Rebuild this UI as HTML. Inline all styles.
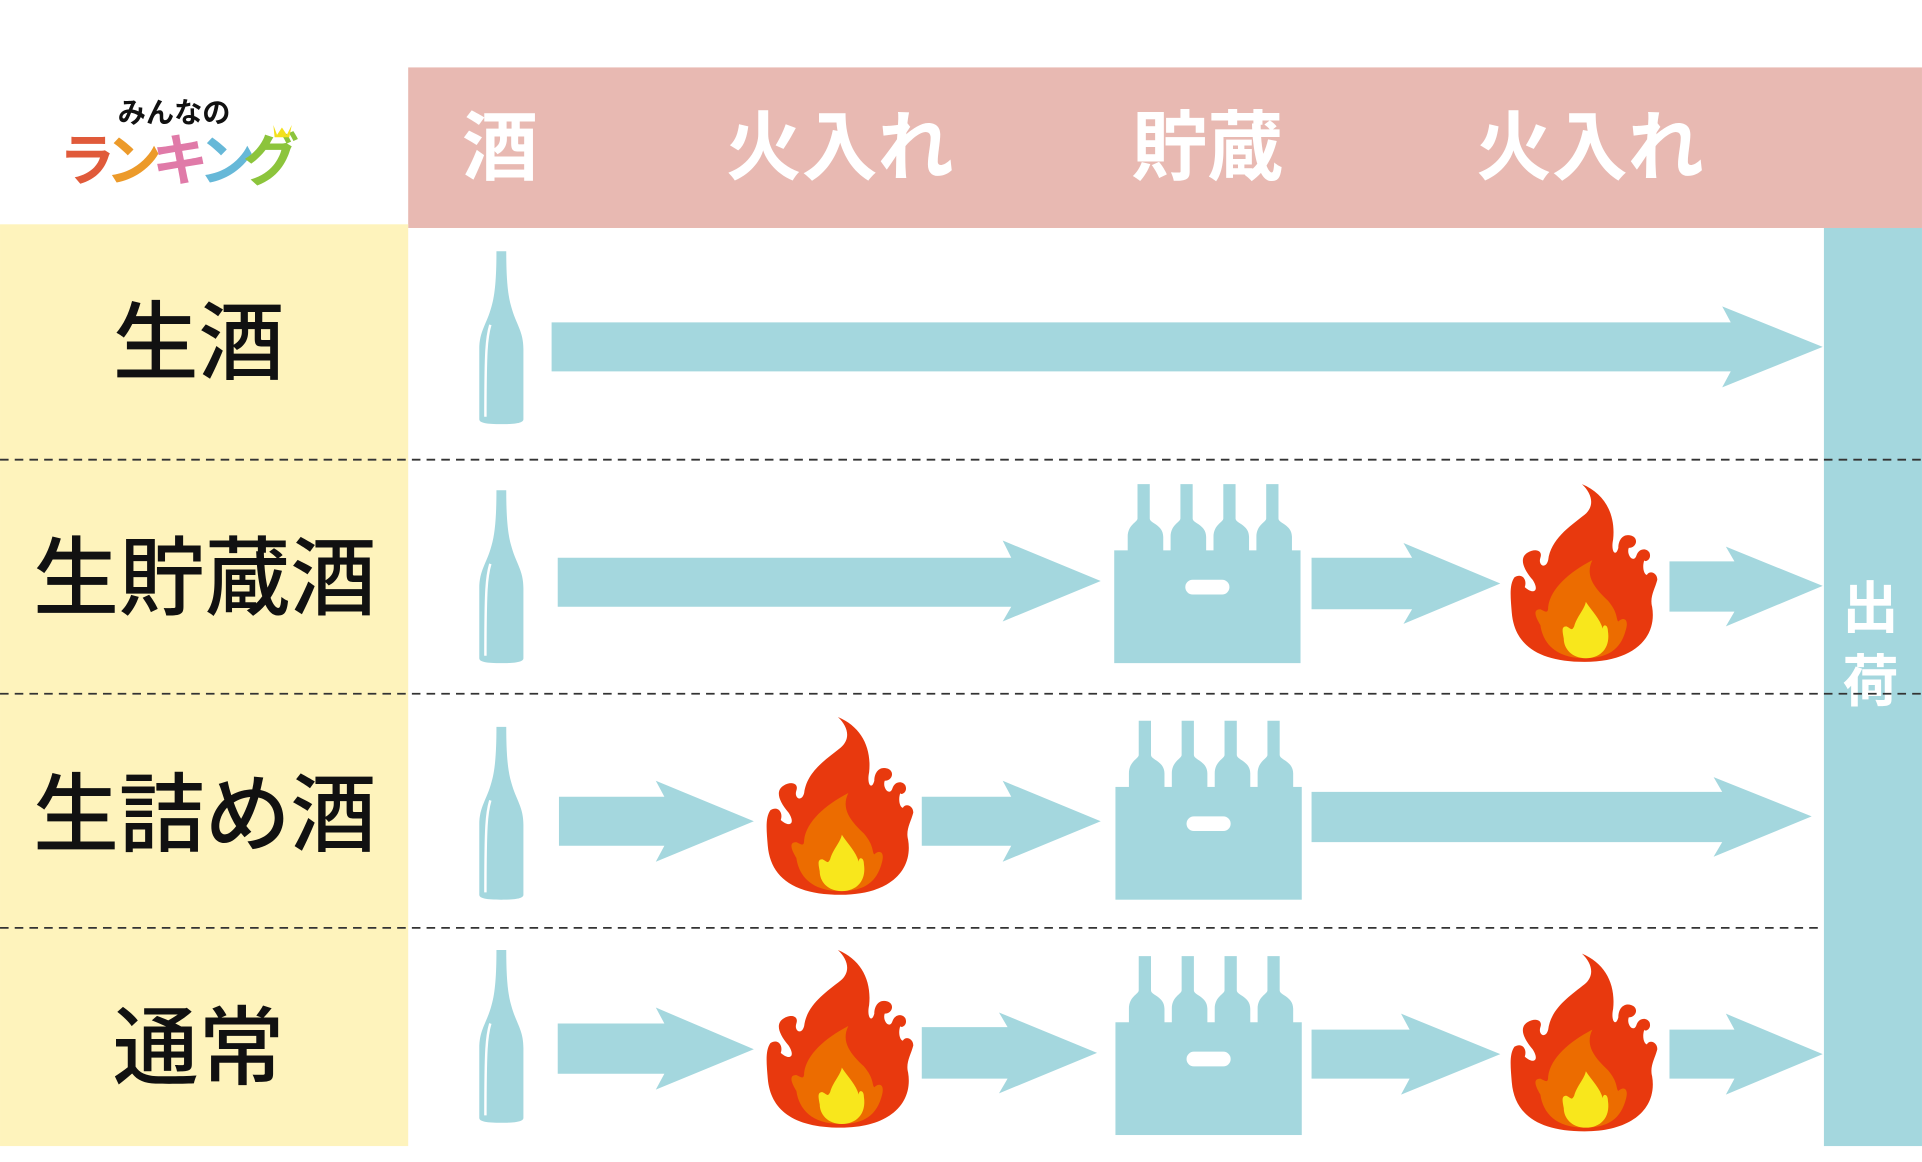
<!DOCTYPE html>
<html><head><meta charset="utf-8"><style>html,body{margin:0;padding:0;background:#fff}svg{display:block}text{font-family:"Liberation Sans","Noto Sans CJK JP",sans-serif}</style></head>
<body>
<svg width="1922" height="1162" viewBox="0 0 1568 948" xmlns="http://www.w3.org/2000/svg">
<defs>
<g id="bottle">
<path d="M14,0 H22 C22,20 23,35 26,45 C30,60 36,65 36,80 V137 C36,140 30,141 18,141 C6,141 0,140 0,137 V80 C0,65 6,60 10,45 C13,35 14,20 14,0Z" fill="#a4d7de"/>
<path d="M9,60 C6,70 5,80 5,135" stroke="#fff" stroke-width="2" fill="none"/>
</g>
<g id="cb">
<path d="M4,0h10v28c0,4 11,5 11,15v12c-8,1 -20,1 -29,0v-12c0-10 8-12 8-15z"/>
</g>
<g id="crate" fill="#a4d7de">
<rect x="0" y="48" width="152" height="92"/>
<use href="#cb" x="15" y="-6"/>
<use href="#cb" x="50" y="-6"/>
<use href="#cb" x="85" y="-6"/>
<use href="#cb" x="120" y="-6"/>
<rect x="58" y="72" width="36" height="12" rx="6" fill="#fff"/>
</g>
<g id="fire">
<path d="M62,145 C25,145 8,130 6,105 C5,92 4,82 8,76 C14,72 18,78 16,84 C22,90 28,88 22,78 C14,68 12,60 18,56 C24,52 30,54 28,60 C26,66 32,70 34,62 C36,45 50,35 62,25 C70,18 68,8 60,0 C78,8 86,25 84,45 C82,55 86,60 88,52 C88,45 92,40 98,42 C104,44 102,52 96,52 C94,58 100,65 102,58 C104,52 110,52 112,56 C114,62 108,64 108,62 C106,68 108,74 110,74 C112,70 118,72 118,78 C116,86 112,92 114,100 C118,125 100,145 62,145Z" fill="#e8390e"/>
<path d="M62,142 C40,142 30,130 28,115 C24,108 22,102 28,102 C32,104 34,106 34,100 C36,85 50,72 68,62 C62,75 70,85 80,95 C88,105 86,110 88,112 C92,108 96,110 94,118 C90,135 80,142 62,142Z" fill="#ec6c00"/>
<path d="M63,142 C52,142 46,134 46,126 C45,120 44,116 48,116 C52,118 52,120 54,116 C56,108 62,102 63,96 C68,104 74,110 76,118 C76,114 80,114 80,120 C82,134 74,142 63,142Z" fill="#f8e71c"/>
</g>
</defs>
<rect x="0" y="0" width="1568" height="948" fill="#fff"/>
<rect x="333" y="55" width="1235" height="131" fill="#e8b9b2"/>
<g fill="#fff" font-weight="bold" font-size="62" text-anchor="middle">
<text x="408" y="142">酒</text>
<text x="685" y="142">火入れ</text>
<text x="985" y="142">貯蔵</text>
<text x="1297" y="142">火入れ</text>
</g>
<rect x="0" y="183" width="333" height="752" fill="#fef3bc"/>
<g fill="#111" font-weight="500" font-size="70" text-anchor="middle">
<text x="162" y="304">生酒</text>
<text x="167" y="496">生貯蔵酒</text>
<text x="167" y="689">生詰め酒</text>
<text x="162" y="879">通常</text>
</g>
<rect x="1488" y="186" width="80" height="749" fill="#a4d7de"/>
<g fill="#fff" font-weight="bold" font-size="46" text-anchor="middle">
<text x="1526" y="512">出</text>
<text x="1526" y="572">荷</text>
</g>
<g stroke="#333" stroke-width="1.5" stroke-dasharray="7,5">
<line x1="0" y1="375" x2="1568" y2="375"/>
<line x1="0" y1="566" x2="1568" y2="566"/>
<line x1="0" y1="757" x2="1488" y2="757"/>
</g>
<text x="142" y="100" font-size="23" font-weight="bold" fill="#111" text-anchor="middle">みんなの</text>
<g font-size="46" font-weight="bold">
<text x="48" y="147" fill="#e05a3a">ラ</text>
<text x="86" y="147" fill="#ec9a2a">ン</text>
<text x="124" y="147" fill="#e07aa8">キ</text>
<text x="162" y="147" fill="#66b8d8">ン</text>
<text x="198" y="147" fill="#8cc43c">グ</text>
</g>
<path d="M223,102 l3,8 l4,-6 l4,6 l4,-8 l-2,10 h-12z" fill="#f3e01c"/>
<use href="#bottle" x="391" y="205"/>
<use href="#bottle" x="391" y="400"/>
<use href="#bottle" x="391" y="593"/>
<use href="#bottle" x="391" y="775"/>
<g fill="#a4d7de">
<polygon points="450,263 1412,263 1405,250 1487,283 1405,316 1412,303 450,303"/>
<polygon points="455,455 825,455 818,441 898,474 818,507 825,495 455,495"/>
<polygon points="1070,455 1152,455 1145,443 1224,476 1145,509 1152,497 1070,497"/>
<polygon points="1362,458 1415,458 1408,446 1487,478 1408,511 1415,499 1362,499"/>
<polygon points="456,650 542,650 535,637 615,670 535,703 542,690 456,690"/>
<polygon points="752,650 825,650 818,637 898,670 818,703 825,690 752,690"/>
<polygon points="1070,646 1405,646 1398,634 1478,666 1398,699 1405,687 1070,687"/>
<polygon points="455,835 542,835 535,822 615,856 535,889 542,876 455,876"/>
<polygon points="752,838 822,838 815,826 895,859 815,892 822,880 752,880"/>
<polygon points="1070,840 1150,840 1143,827 1224,860 1143,893 1150,880 1070,880"/>
<polygon points="1362,840 1415,840 1408,827 1487,860 1408,893 1415,880 1362,880"/>
</g>
<use href="#crate" x="909" y="401"/>
<use href="#crate" x="910" y="594"/>
<use href="#crate" x="910" y="786"/>
<use href="#fire" transform="translate(1227,395) scale(1.06,1)"/>
<use href="#fire" transform="translate(620,585) scale(1.06,1)"/>
<use href="#fire" transform="translate(620,775) scale(1.06,1)"/>
<use href="#fire" transform="translate(1227,778) scale(1.06,1)"/>
</svg>
</body></html>
